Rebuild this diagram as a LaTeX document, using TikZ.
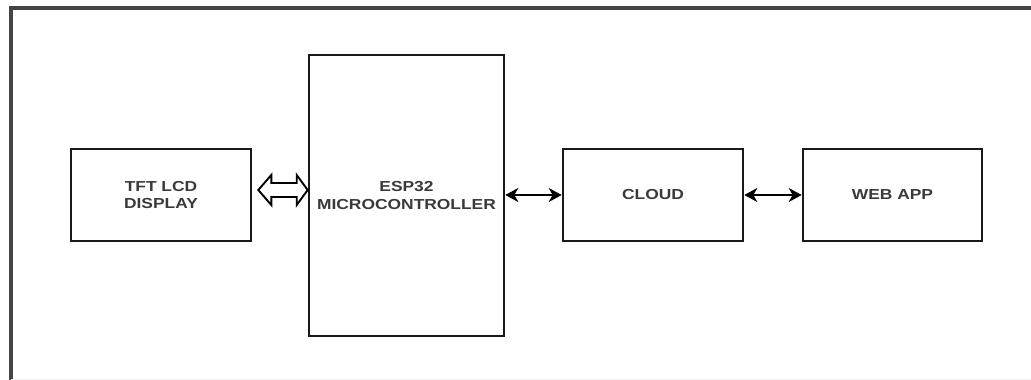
\documentclass[tikz,border=0pt]{standalone}
\usepackage{fontspec}
\setmainfont{Liberation Sans}
\usetikzlibrary{arrows.meta,calc}
\definecolor{txt}{HTML}{3A3A3A}
\definecolor{frame}{HTML}{444444}
\tikzset{
  blk/.style={draw=black!90, line width=2.6pt, fill=white, inner sep=0pt, align=center,
    font=\fontsize{14.5}{16.5}\selectfont\bfseries, text=txt},
  link/.style={line width=2.2pt, black, {Stealth[length=13pt,width=14pt,inset=4pt]}-{Stealth[length=13pt,width=14pt,inset=4pt]}},
  hollow/.style={draw=black, line width=1.9pt, fill=white, line join=miter},
}
\newcommand{\wtxt}[1]{\scalebox{1.2}[1]{#1}}
\begin{document}
\begin{tikzpicture}[x=1pt,y=-1pt]
\useasboundingbox (0,0) rectangle (1031,380);
% outer frame (top and left edges only)
\draw[frame, line width=3.2pt] (11,380) -- (11,8) -- (1031,8);
\draw[gray!12, line width=1pt] (11,379.5) -- (1031,379.5);
% blocks
\node[blk, minimum width=180pt, minimum height=92pt] (tft) at (161,195) {\wtxt{TFT LCD}\\[1pt]\wtxt{DISPLAY}};
\node[blk, minimum width=195pt, minimum height=281pt] (esp) at (406.5,195.5) {\wtxt{ESP32}\\[1pt]\wtxt{MICROCONTROLLER}};
\node[blk, minimum width=180pt, minimum height=92pt] (cloud) at (653,195) {\wtxt{CLOUD}};
\node[blk, minimum width=179pt, minimum height=92pt] (web) at (892.5,195) {\wtxt{WEB APP}};
% hollow double arrow between display and controller
\coordinate (hl) at ($(tft.east)+(6,-5)$);
\coordinate (hr) at ($(esp.west |- hl)$);
\draw[hollow] (hl) -- ++(13,-15) -- ++(0,8) -- ($(hr)+(-11,-7)$) -- ++(0,-8) -- (hr)
  -- ++(-11,15) -- ++(0,-8) -- ($(hl)+(13,7)$) -- ++(0,8) -- cycle;
% bidirectional links
\draw[link] (esp.east |- cloud.west) -- (cloud.west);
\draw[link] (cloud.east) -- (web.west);
\end{tikzpicture}
\end{document}
